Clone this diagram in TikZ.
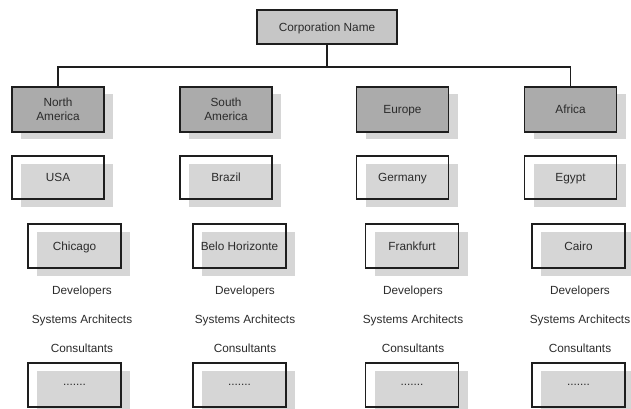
\documentclass[tikz,border=0pt]{standalone}
\usepackage{fontspec}
\setmainfont{Liberation Sans}
\usetikzlibrary{shadows}
\definecolor{edge}{HTML}{1E1E1E}
\definecolor{txt}{HTML}{2B2B2B}
\definecolor{corpfill}{HTML}{C6C6C6}
\definecolor{regionfill}{HTML}{ABABAB}
\definecolor{shade}{HTML}{D6D6D6}
\begin{document}
\begin{tikzpicture}[x=1pt,y=-1pt,
  every node/.style={font=\fontsize{11.8}{14}\selectfont, text=txt, inner sep=0pt, align=center},
  boxbase/.style={draw=edge, line width=1.4pt, minimum width=92pt, minimum height=44pt, text depth=0pt},
  corpbox/.style={boxbase, fill=corpfill, minimum width=140pt, minimum height=34pt,
    drop shadow={shadow xshift=1.2pt, shadow yshift=-1.2pt, fill=edge, opacity=1}},
  regionbox/.style={boxbase, fill=regionfill,
    drop shadow={shadow xshift=9pt, shadow yshift=-7pt, fill=shade, opacity=1}},
  framebox/.style={boxbase,
    drop shadow={shadow xshift=9pt, shadow yshift=-8pt, fill=shade, opacity=1}},
  citybox/.style={framebox, minimum width=93pt},
  role/.style={},
  link/.style={draw=edge, line width=1.3pt}
]
\useasboundingbox (0,0) rectangle (631,408);
\clip (0,0) rectangle (631,408);

% top of the hierarchy
\node[corpbox] (corp) at (327,27) {Corporation Name};

% regions
\node[regionbox, minimum height=45pt] (na) at (58,109.5)   {North\\America};
\node[regionbox, minimum height=45pt] (sa) at (226,109.5)  {South\\America};
\node[regionbox, minimum height=45pt] (eu) at (402.5,109.5) {Europe};
\node[regionbox, minimum height=45pt] (af) at (570.5,109.5) {Africa};

% countries
\node[framebox, minimum height=43pt] (usa) at (58,177.5)    {USA};
\node[framebox, minimum height=43pt] (bra) at (226,177.5)   {Brazil};
\node[framebox, minimum height=43pt] (ger) at (402.5,177.5) {Germany};
\node[framebox, minimum height=43pt] (egy) at (570.5,177.5) {Egypt};

% cities
\node[citybox] (chi) at (74.5,246)  {Chicago};
\node[citybox] (bho) at (239.5,246) {Belo Horizonte};
\node[citybox] (fra) at (412,246)   {Frankfurt};
\node[citybox] (cai) at (578.5,246) {Cairo};

% roles per city
\foreach \c/\x in {chi/82, bho/245, fra/413, cai/580} {
  \node[role] (\c-dev) at (\x,291) {Developers};
  \node[role] (\c-arc) at (\x,320) {Systems Architects};
  \node[role] (\c-con) at (\x,348) {Consultants};
}

% further entries
\node[citybox] (chi-more) at (74.5,385)  {.......};
\node[citybox] (bho-more) at (239.5,385) {.......};
\node[citybox] (fra-more) at (412,385)   {.......};
\node[citybox] (cai-more) at (578.5,385) {.......};

% connectors
\coordinate (bus) at (327,67);
\draw[link] (corp.south) -- (corp.south |- bus);
\draw[link] (na.north) -- (na.north |- bus) -- (af.north |- bus) -- (af.north);
\end{tikzpicture}
\end{document}
